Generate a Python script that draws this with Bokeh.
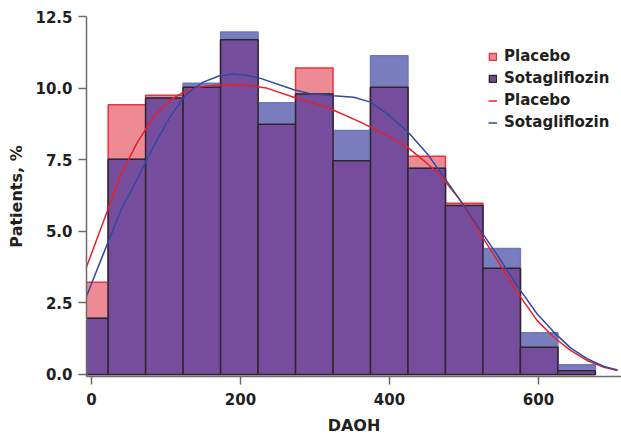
from bokeh.plotting import figure
from bokeh.models import Range1d, FixedTicker, Legend, LegendItem, ColumnDataSource, PrintfTickFormatter
from bokeh.embed import file_html
from bokeh.resources import INLINE

# ---- data ----
bin_left = [-27.9, 22.4, 72.7, 123.0, 173.3, 223.6, 273.9, 324.2, 374.5, 424.8, 475.1, 525.4, 575.7, 626.0]
bin_right = [22.4, 72.7, 123.0, 173.3, 223.6, 273.9, 324.2, 374.5, 424.8, 475.1, 525.4, 575.7, 626.0, 676.3]
placebo_pct = [3.22, 9.42, 9.75, 10.03, 11.69, 8.74, 10.70, 7.46, 10.03, 7.62, 5.98, 3.71, 0.95, 0.13]
sota_pct = [1.96, 7.52, 9.65, 10.17, 11.96, 9.49, 9.79, 8.52, 11.13, 7.20, 5.90, 4.40, 1.46, 0.34]

placebo_kde_x = [-6.7, 22.4, 38, 60.4, 82.8, 105, 127.5, 150, 181, 208, 235, 271.6, 316, 361, 397,
                 424, 446, 468.5, 495, 522, 545, 562, 576, 598, 620.5, 643, 665, 688, 706]
placebo_kde_y = [3.75, 5.79, 6.89, 8.05, 8.98, 9.57, 9.92, 10.06, 10.13, 10.10, 10.0, 9.68, 9.33, 8.81, 8.34,
                 7.94, 7.47, 6.95, 6.08, 4.91, 3.98, 3.28, 2.70, 1.89, 1.30, 0.84, 0.49, 0.25, 0.14]
sota_kde_x = [-6.7, 15, 40.3, 60.4, 82.8, 105, 127.5, 150, 172, 190, 208, 227, 271.6, 294, 325, 352, 374.5,
              397, 424, 450.6, 473, 495, 522, 545, 567, 576, 598, 620.5, 643, 665, 688, 706]
sota_kde_y = [2.73, 4.15, 5.79, 6.77, 7.94, 8.98, 9.80, 10.21, 10.43, 10.49, 10.45, 10.34, 9.94, 9.80, 9.73, 9.68, 9.51,
              9.10, 8.49, 7.71, 6.89, 6.08, 5.03, 4.16, 3.28, 2.93, 2.12, 1.48, 0.93, 0.55, 0.28, 0.16]

x_ticks = [0, 200, 400, 600]
y_ticks = [0, 2.5, 5.0, 7.5, 10.0, 12.5]

overlap_pct = [min(a, b) for a, b in zip(placebo_pct, sota_pct)]

FONT = "DejaVu Sans"
TXT = "#231f20"

p = figure(width=621, height=438, output_backend="svg", toolbar_location=None,
           x_range=Range1d(-6.7, 711.4), y_range=Range1d(-0.07, 12.5),
           min_border_left=86, min_border_right=0, min_border_top=16, min_border_bottom=62)
p.outline_line_color = None
p.xgrid.visible = False
p.ygrid.visible = False
p.background_fill_color = "white"

src = ColumnDataSource(dict(left=bin_left, right=bin_right, plac=placebo_pct, sota=sota_pct, ov=overlap_pct,
                            bottom=[0] * len(bin_left)))

r_plac = p.quad(left="left", right="right", bottom="bottom", top="plac", source=src,
                fill_color="#ee8a94", line_color="#e8343e", line_width=1.5)
r_sota = p.quad(left="left", right="right", bottom="bottom", top="sota", source=src,
                fill_color="#7a7dbd", line_color="#6e77bc", line_width=1.5)
r_ov = p.quad(left="left", right="right", bottom="bottom", top="ov", source=src,
              fill_color="#754d9c", line_color="#2d272d", line_width=1.5)

r_pl = p.line(placebo_kde_x, placebo_kde_y, line_color="#e8202a", line_width=1.5)
r_sl = p.line(sota_kde_x, sota_kde_y, line_color="#2f4aa0", line_width=1.5)

for ax in (p.xaxis[0], p.yaxis[0]):
    ax.axis_line_color = "#6b6b6b"
    ax.axis_line_width = 1.5
    ax.major_tick_line_color = "#6b6b6b"
    ax.major_tick_line_width = 1.5
    ax.major_tick_out = 8
    ax.major_tick_in = 0
    ax.minor_tick_line_color = None
    ax.major_label_text_font = FONT
    ax.major_label_text_font_style = "bold"
    ax.major_label_text_font_size = "15px"
    ax.major_label_text_color = TXT
    ax.axis_label_text_font = FONT
    ax.axis_label_text_font_style = "bold"
    ax.axis_label_text_font_size = "16px"
    ax.axis_label_text_color = TXT

p.xaxis[0].ticker = FixedTicker(ticks=x_ticks)
p.yaxis[0].ticker = FixedTicker(ticks=y_ticks)
p.yaxis[0].formatter = PrintfTickFormatter(format="%.1f")
p.xaxis[0].axis_label = "DAOH"
p.yaxis[0].axis_label = "Patients, %"
p.xaxis[0].major_label_standoff = 8
p.yaxis[0].major_label_standoff = 6
p.xaxis[0].axis_label_standoff = 8
p.yaxis[0].axis_label_standoff = 6

legend = Legend(items=[
    LegendItem(label="Placebo", renderers=[r_plac]),
    LegendItem(label="Sotagliflozin", renderers=[r_ov]),
    LegendItem(label="Placebo", renderers=[r_pl]),
    LegendItem(label="Sotagliflozin", renderers=[r_sl]),
], location=(402, 244))
legend.padding = 0
legend.margin = 0
legend.spacing = 2
legend.glyph_width = 9
legend.glyph_height = 9
legend.label_height = 20
legend.label_standoff = 7
legend.border_line_alpha = 0
legend.background_fill_alpha = 0
legend.label_text_font = FONT
legend.label_text_font_style = "bold"
legend.label_text_font_size = "15px"
legend.label_text_color = TXT
p.add_layout(legend)

open("out.html", "w").write(file_html(p, INLINE))
